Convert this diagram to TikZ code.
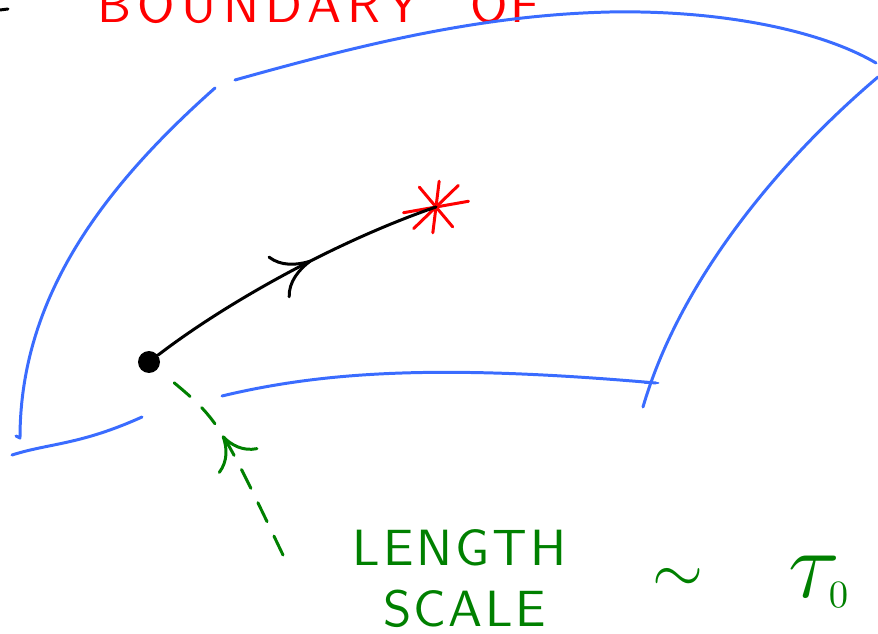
\documentclass[tikz,border=0pt]{standalone}
\usepackage{fontspec}
\usepackage{xcolor}
\usetikzlibrary{arrows.meta, calc, decorations.markings}

\newfontfamily\mano{lmsans10-regular}[Extension=.otf]
\definecolor{azulborde}{RGB}{58,108,255}
\definecolor{verdelong}{RGB}{0,128,0}

\begin{document}
\begin{tikzpicture}[
  x=0.02cm, y=-0.02cm,
  borde/.style={draw=azulborde, line width=1.7pt, line cap=round, line join=round},
  tray/.style={
    draw=black, line width=1.7pt, line cap=round,
    postaction={decorate},
    decoration={markings, mark=at position 0.57 with
      {\arrow{Computer Modern Rightarrow[length=0.75cm, width=0.95cm, line width=1.7pt]}}}
  },
  guia/.style={
    draw=verdelong, line width=1.7pt, line cap=round,
    dash pattern=on 0.42cm off 0.32cm, shorten >=0.22cm,
    postaction={decorate},
    decoration={markings, mark=at position 2.68cm with
      {\arrow{Computer Modern Rightarrow[length=0.62cm, width=0.95cm, line width=1.7pt]}}}
  },
  estrella/.style={draw=red, line width=1.7pt, line cap=round},
  rotulo/.style={inner sep=0pt, font=\fontsize{29}{30}\selectfont\mano},
  simbolo/.style={inner sep=0pt, font=\Huge},
  punto/.style={circle, fill=black, inner sep=0pt, minimum size=0.44cm}
]
\useasboundingbox (0,0) rectangle (878,634);

% ── Título (cortado arriba) ──────────────────────────────────
\draw[black, line width=1.7pt, line cap=round] (0,10) -- (8,9);
\node[rotulo, red, anchor=base west] (titulo) at (97,23)
  {\addfontfeature{LetterSpace=12.5}BOUNDARY};
\node[rotulo, red, anchor=base west] (titulo2) at (470,23)
  {\addfontfeature{LetterSpace=6}OF};

% ── Frontera ─────────────────────────────────────────────────
\draw[borde] (235,80) .. controls (360,45) and (480,15) .. (610,12)
  .. controls (720,10) and (820,30) .. (876,63);
\draw[borde] (215,88) .. controls (100,190) and (20,300) .. (20,438) -- (16,436);
\draw[borde] (12,455) .. controls (50,443) and (80,445) .. (142,417);
\draw[borde] (222,396) .. controls (330,370) and (450,365) .. (656,383);
\draw[borde] (878,77) .. controls (780,160) and (680,280) .. (643,407);
\draw[borde] (645,383) -- (658,383);

% ── Partícula y trayectoria ──────────────────────────────────
\node[punto] (dot) at (149,362) {};
\coordinate (star) at (436,207);
\foreach \ang/\len in {-10/33, -83/26, 50/26, -44/31}
  \draw[estrella] ($(star)+(\ang:\len)$) -- ($(star)+(\ang+180:\len)$);

\draw[tray] (dot) .. controls (230,300) and (340,240) .. (star);

% ── Escala de longitud ───────────────────────────────────────
\coordinate (ini) at (283,555);
\draw[guia] (ini) .. controls (218,419) .. (dot);

\node[rotulo, verdelong, anchor=base west] (longitud) at (352,565)
  {\addfontfeature{LetterSpace=6}LENGTH};
\node[rotulo, verdelong, anchor=base west] (escala) at (383,626)
  {\addfontfeature{LetterSpace=4.5}SCALE};
\node[simbolo, verdelong, scale=1.5] (sim) at (678,580) {$\sim$};
\node[simbolo, verdelong, scale=2.2, anchor=base west] (tau) at (788,597)
  {$\tau$\kern-3pt\raisebox{-2.8pt}{\normalsize$0$}};

\end{tikzpicture}
\end{document}
